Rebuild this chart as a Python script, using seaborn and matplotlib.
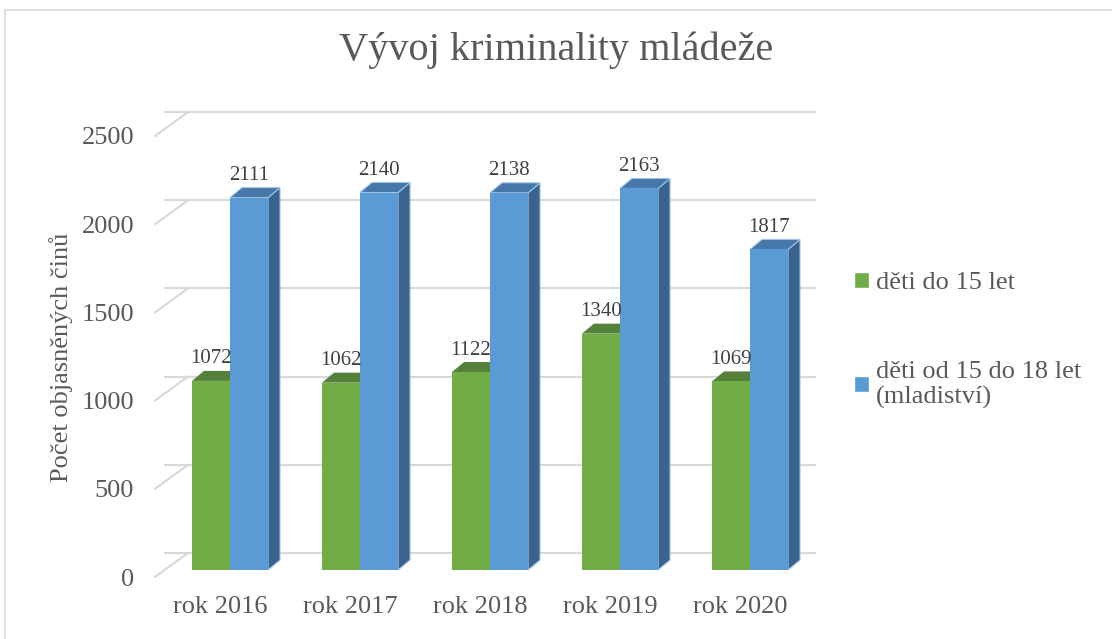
import matplotlib
matplotlib.use("Agg")
import matplotlib.pyplot as plt
from matplotlib.patches import Polygon, Rectangle
from matplotlib.transforms import ScaledTranslation
import numpy as np
import pandas as pd
import seaborn as sns

# data
years = ["rok 2016", "rok 2017", "rok 2018", "rok 2019", "rok 2020"]
series = ["děti do 15 let", "děti od 15 do 18 let\n(mladiství)"]
deti_do_15 = [1072, 1062, 1122, 1340, 1069]
mladistvi = [2111, 2140, 2138, 2163, 1817]

front_col = ["#70AD47", "#5B9BD5"]
top_col = ["#54823a", "#4677a8"]
side_col = ["#4a7331", "#3a6490"]
txt_col = "#595959"

df = pd.DataFrame({
    "rok": years * 2,
    "serie": [series[0]] * 5 + [series[1]] * 5,
    "pocet": deti_do_15 + mladistvi,
})

sns.set_style("white")
plt.rcParams["font.family"] = ["Liberation Serif", "DejaVu Serif"]

W, H = 1112, 639
fig = plt.figure(figsize=(W / 100, H / 100), dpi=100)
# bar plane in pixels: x 165..815, y 129..570
ax = fig.add_axes([165 / W, (H - 570) / H, 650 / W, 441 / H])

sns.barplot(data=df, x="rok", y="pocet", hue="serie", palette=front_col,
            width=0.585, saturation=1, ax=ax, legend=True)
handles, labels = ax.get_legend_handles_labels()
ax.get_legend().remove()

ax.set_xlim(-0.5, 4.5)
ax.set_ylim(0, 2500)
ax.set_yticks(np.arange(0, 2501, 500))
for s in ax.spines.values():
    s.set_visible(False)
ax.set_xlabel("")

# px -> data units
kx = 5 / 650
ky = 2500 / 441
front = (-10, -7)   # front plane offset in px (x right, y up)
back = (23, 17)     # back plane offset
depth = (12, 10)    # bar depth

# gridlines: back wall + left diagonals
for v in ax.get_yticks():
    ax.plot([-0.5, 4.5], [v + back[1] * ky] * 2, color="#d9d9d9", lw=1.6,
            zorder=0.5, clip_on=False)
    ax.plot([-0.5 + front[0] * kx, -0.5 + back[0] * kx],
            [v + front[1] * ky, v + back[1] * ky],
            color="#d9d9d9", lw=1.6, zorder=0.5, clip_on=False)

# 3d faces of bars
for i, cont in enumerate(ax.containers):
    for p in cont.patches:
        p.set_zorder(3)
        p.set_edgecolor("none")
        x0, w, h = p.get_x(), p.get_width(), p.get_height()
        ddx, ddy = depth[0] * kx, depth[1] * ky
        ec = "#9dc3e6" if i == 1 else "none"
        top = Polygon([(x0, h), (x0 + w, h), (x0 + w + ddx, h + ddy), (x0 + ddx, h + ddy)],
                      closed=True, facecolor=top_col[i], edgecolor=ec, lw=0.8,
                      zorder=2.5, clip_on=False)
        side = Polygon([(x0 + w, 0), (x0 + w + ddx, ddy), (x0 + w + ddx, h + ddy), (x0 + w, h)],
                       closed=True, facecolor=side_col[i], edgecolor=ec, lw=0.8,
                       zorder=2.5, clip_on=False)
        ax.add_patch(side)
        ax.add_patch(top)
    ax.bar_label(cont, padding=9, fontsize=15, color="#404040")

# tick labels sit on the front plane
ax.tick_params(axis="y", length=0, pad=15, labelsize=19, labelcolor=txt_col)
ax.tick_params(axis="x", length=0, pad=14, labelsize=19, labelcolor=txt_col)
shift = ScaledTranslation(front[0] / 100, front[1] / 100, fig.dpi_scale_trans)
for lab in ax.get_xticklabels() + ax.get_yticklabels():
    lab.set_transform(lab.get_transform() + shift)

ax.set_ylabel("Počet objasněných činů", fontsize=19, color=txt_col, va="center")
ax.yaxis.set_label_coords(-0.16, 0.483)

fig.suptitle("Vývoj kriminality mládeže", x=0.5, y=1 - 50 / H, va="center",
             fontsize=29, color=txt_col)

leg = fig.legend(handles, labels, loc="upper left", bbox_to_anchor=(854 / W, 1 - 272 / H),
                 frameon=False, fontsize=19, handlelength=0.57, handleheight=0.57,
                 handletextpad=0.25, labelspacing=2.53, borderpad=0, borderaxespad=0)
for t in leg.get_texts():
    t.set_color(txt_col)
    t.set_linespacing(1.15)

# chart border
fig.patches.append(Rectangle((5 / W, -0.05), 1.1, 1 - 10 / H + 0.05,
                             transform=fig.transFigure, fill=False,
                             edgecolor="#d9d9d9", lw=1.2))

fig.savefig("out.png", dpi=100)
